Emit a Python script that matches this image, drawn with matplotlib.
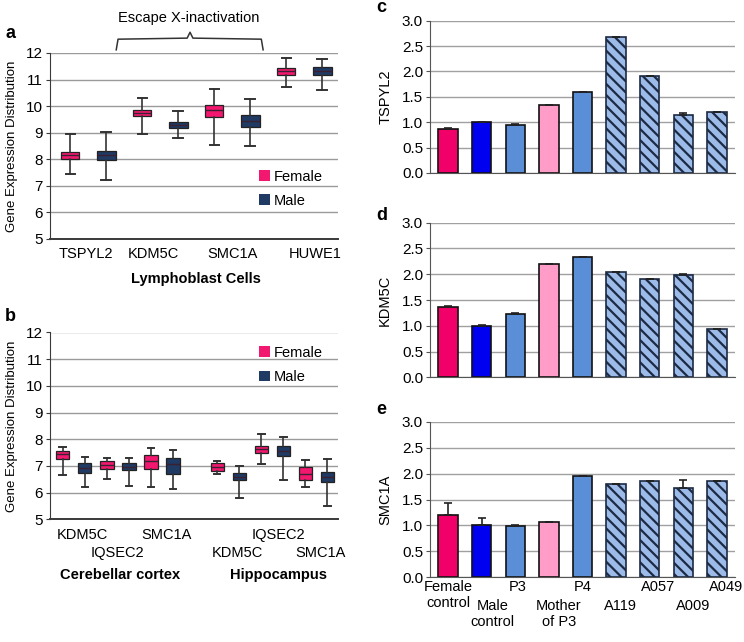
import numpy as np
import matplotlib
matplotlib.use('Agg')
import matplotlib.pyplot as plt
from matplotlib.patches import Patch

plt.rcParams['font.family'] = ['Liberation Sans', 'DejaVu Sans']
plt.rcParams['hatch.linewidth'] = 1.6

# ---- panel a: lymphoblast box plots ----
genes_a = ['TSPYL2', 'KDM5C', 'SMC1A', 'HUWE1']
fem_a_lo = [7.43, 8.94, 8.55, 10.71]
fem_a_q1 = [8.00, 9.62, 9.58, 11.19]
fem_a_med = [8.15, 9.75, 9.87, 11.32]
fem_a_q3 = [8.28, 9.87, 10.06, 11.44]
fem_a_hi = [8.97, 10.30, 10.66, 11.80]
male_a_lo = [7.22, 8.81, 8.50, 10.62]
male_a_q1 = [7.98, 9.18, 9.22, 11.16]
male_a_med = [8.15, 9.28, 9.45, 11.32]
male_a_q3 = [8.30, 9.39, 9.65, 11.46]
male_a_hi = [9.02, 9.80, 10.27, 11.79]

# ---- panel b: brain box plots ----
genes_b = ['KDM5C', 'IQSEC2', 'SMC1A', 'KDM5C', 'IQSEC2', 'SMC1A']
tissues_b = ['Cerebellar cortex', 'Hippocampus']
fem_b_lo = [6.66, 6.50, 6.20, 6.69, 7.08, 6.19]
fem_b_q1 = [7.26, 6.88, 6.88, 6.80, 7.48, 6.48]
fem_b_med = [7.44, 7.05, 7.20, 6.95, 7.63, 6.70]
fem_b_q3 = [7.56, 7.18, 7.40, 7.10, 7.76, 6.95]
fem_b_hi = [7.70, 7.29, 7.66, 7.19, 8.20, 7.23]
male_b_lo = [6.20, 6.26, 6.15, 5.79, 6.48, 5.48]
male_b_q1 = [6.73, 6.83, 6.69, 6.48, 7.38, 6.38]
male_b_med = [6.91, 6.97, 7.08, 6.60, 7.56, 6.60]
male_b_q3 = [7.10, 7.10, 7.28, 6.73, 7.73, 6.76]
male_b_hi = [7.35, 7.28, 7.60, 6.98, 8.10, 7.25]

# ---- panels c-e: qPCR bars ----
samples = ['Female\ncontrol', 'Male\ncontrol', 'P3', 'Mother\nof P3', 'P4',
           'A119', 'A057', 'A009', 'A049']
tspyl2 = [0.87, 1.00, 0.94, 1.34, 1.60, 2.67, 1.91, 1.14, 1.21]
tspyl2_err = [0.02, 0.0, 0.03, 0.0, 0.0, 0.0, 0.0, 0.05, 0.0]
kdm5c = [1.36, 1.00, 1.23, 2.19, 2.33, 2.05, 1.91, 1.98, 0.94]
kdm5c_err = [0.02, 0.01, 0.02, 0.0, 0.0, 0.0, 0.0, 0.02, 0.0]
smc1a = [1.21, 1.00, 0.99, 1.06, 1.95, 1.79, 1.85, 1.72, 1.85]
smc1a_err = [0.22, 0.15, 0.02, 0.0, 0.0, 0.0, 0.0, 0.16, 0.0]

PINK = '#f2186f'
NAVY = '#1f3a63'
bar_colors = ['#f00068', '#0000f0', '#5a8fd8', '#ff9cc8', '#5a8fd8',
              '#9dbbe8', '#9dbbe8', '#9dbbe8', '#9dbbe8']
bar_hatch = [None, None, None, None, None, '\\\\\\', '\\\\\\', '\\\\\\', '\\\\\\']
# small horizontal nudges of the sample labels (points), as in the original layout
label_nudge = [0, 8, 1.5, 7, 0, 3, 6, 7, 7]

W, H = 744, 642
fig = plt.figure(figsize=(W / 100, H / 100), dpi=100)


def rect(l, t, r, b):
    return [l / W, 1 - b / H, (r - l) / W, (b - t) / H]


def style_box_axes(ax):
    ax.set_ylim(5, 12)
    ax.set_yticks(range(5, 13))
    ax.yaxis.grid(True, color='#9a9a9a', lw=1)
    ax.set_axisbelow(True)
    for s in ['top', 'right']:
        ax.spines[s].set_visible(False)
    ax.spines['left'].set_color('#3a3a3a')
    ax.spines['bottom'].set_color('#3a3a3a')
    ax.spines['bottom'].set_linewidth(1.4)
    ax.tick_params(axis='y', labelsize=11, length=3, color='#3a3a3a', pad=2)
    ax.tick_params(axis='x', length=0, labelbottom=False)
    ax.set_ylabel('Gene Expression Distribution', fontsize=9.5, labelpad=6)


def draw_boxes(ax, pos, lo, q1, med, q3, hi, color, width):
    stats = [dict(whislo=a, q1=b, med=c, q3=d, whishi=e)
             for a, b, c, d, e in zip(lo, q1, med, q3, hi)]
    ax.bxp(stats, positions=pos, widths=width, showfliers=False, patch_artist=True,
           boxprops=dict(facecolor=color, edgecolor='#222222', lw=0.9),
           medianprops=dict(color='#3a2030', lw=1.0),
           whiskerprops=dict(color='#333333', lw=1.2),
           capprops=dict(color='#333333', lw=1.4), capwidths=width * 0.5,
           manage_ticks=False)


# panel a
ax_a = fig.add_axes(rect(50, 53, 338, 239))
style_box_axes(ax_a)
ax_a.set_xlim(-0.56, 7.44)
pos_f = np.arange(len(genes_a)) * 2
draw_boxes(ax_a, pos_f, fem_a_lo, fem_a_q1, fem_a_med, fem_a_q3, fem_a_hi, PINK, 0.5)
draw_boxes(ax_a, pos_f + 1, male_a_lo, male_a_q1, male_a_med, male_a_q3, male_a_hi, NAVY, 0.53)
for x, g in zip([0.45, 2.3, 4.5, 6.8], genes_a):
    ax_a.annotate(g, (x, 0), xycoords=('data', 'axes fraction'), xytext=(0, -6),
                  textcoords='offset points', ha='center', va='top', fontsize=10.5)
ax_a.annotate('Lymphoblast Cells', (3.5, 0), xycoords=('data', 'axes fraction'),
              xytext=(0, -24), textcoords='offset points', ha='center', va='top',
              fontsize=10.5, fontweight='bold')
bx = [1.28, 1.33, 3.25, 3.33, 3.41, 5.31, 5.36]
by = [12.12, 12.52, 12.56, 12.78, 12.56, 12.52, 12.12]
ax_a.plot(bx, by, color='#333333', lw=1.1, clip_on=False)
ax_a.text(3.28, 13.3, 'Escape X-inactivation', ha='center', va='center', fontsize=10.5)
leg_handles = [Patch(facecolor=PINK, edgecolor='none', label='Female'),
               Patch(facecolor=NAVY, edgecolor='none', label='Male')]
ax_a.legend(handles=leg_handles, loc='upper left', bbox_to_anchor=(0.695, 0.42),
            frameon=False, fontsize=10.5, handlelength=0.75, handleheight=0.75,
            handletextpad=0.25, labelspacing=0.7, borderpad=0.1)

# panel b
ax_b = fig.add_axes(rect(50, 332.5, 338, 519.2))
style_box_axes(ax_b)
ax_b.set_xlim(-0.58, 12.48)
pos_bf = np.array([0, 2, 4, 7, 9, 11])
draw_boxes(ax_b, pos_bf, fem_b_lo, fem_b_q1, fem_b_med, fem_b_q3, fem_b_hi, PINK, 0.6)
draw_boxes(ax_b, pos_bf + 1, male_b_lo, male_b_q1, male_b_med, male_b_q3, male_b_hi, NAVY, 0.6)
lab_x_b = [0.9, 2.5, 4.7, 7.9, 9.8, 11.7]
lab_row_b = [0, 1, 0, 1, 0, 1]
for x, g, r in zip(lab_x_b, genes_b, lab_row_b):
    ax_b.annotate(g, (x, 0), xycoords=('data', 'axes fraction'), xytext=(0, -6 - 13.5 * r),
                  textcoords='offset points', ha='center', va='top', fontsize=10.5)
for x, t in zip([2.6, 9.77], tissues_b):
    ax_b.annotate(t, (x, 0), xycoords=('data', 'axes fraction'), xytext=(0, -35),
                  textcoords='offset points', ha='center', va='top',
                  fontsize=10.5, fontweight='bold')
ax_b.legend(handles=leg_handles, loc='upper left', bbox_to_anchor=(0.695, 0.975),
            frameon=False, fontsize=10.5, handlelength=0.75, handleheight=0.75,
            handletextpad=0.25, labelspacing=0.7, borderpad=0.1)

# panels c-e
bar_panels = [(rect(430, 20.7, 735, 173), tspyl2, tspyl2_err, 'TSPYL2'),
              (rect(430, 222.7, 735, 377.3), kdm5c, kdm5c_err, 'KDM5C'),
              (rect(430, 421.7, 735, 577.3), smc1a, smc1a_err, 'SMC1A')]
x = np.arange(len(samples))
bar_axes = []
for r_, vals, err, name in bar_panels:
    ax = fig.add_axes(r_)
    bars = ax.bar(x, vals, width=0.58, color=bar_colors, edgecolor='#111111', lw=1.2,
                  yerr=[np.zeros(len(err)), err], ecolor='#222222',
                  error_kw=dict(lw=1.2, capsize=3, capthick=1.2))
    for b, h in zip(bars, bar_hatch):
        if h:
            b.set_hatch(h)
            b.set_edgecolor('#1c2a44')
    ax.set_xlim(-0.54, 8.54)
    ax.set_ylim(0, 3)
    ax.set_yticks(np.arange(0, 3.01, 0.5))
    ax.set_yticklabels([f'{v:.1f}' for v in np.arange(0, 3.01, 0.5)])
    ax.yaxis.grid(True, color='#a0a0a0', lw=1)
    ax.set_axisbelow(True)
    for s in ['top', 'right']:
        ax.spines[s].set_visible(False)
    ax.spines['left'].set_color('#555555')
    ax.spines['bottom'].set_color('#555555')
    ax.tick_params(axis='y', labelsize=11, length=3, color='#555555', pad=2)
    ax.tick_params(axis='x', length=0, labelbottom=False)
    ax.set_ylabel(name, fontsize=10.5, labelpad=7)
    bar_axes.append(ax)

ax_e = bar_axes[2]
for i, s in enumerate(samples):
    ax_e.annotate(s, (i, 0), xycoords=('data', 'axes fraction'),
                  xytext=(label_nudge[i], -2 - 13.5 * (i % 2)), textcoords='offset points',
                  ha='center', va='top', fontsize=10.5, linespacing=1.2)

# panel letters
for lab, (px, py) in zip('abcde', [(5, 34), (5, 316), (376, 7), (376, 215), (376, 410)]):
    fig.text(px / W, 1 - py / H, lab, fontsize=13, fontweight='bold',
             ha='left', va='center')

fig.savefig('out.png', dpi=100)
